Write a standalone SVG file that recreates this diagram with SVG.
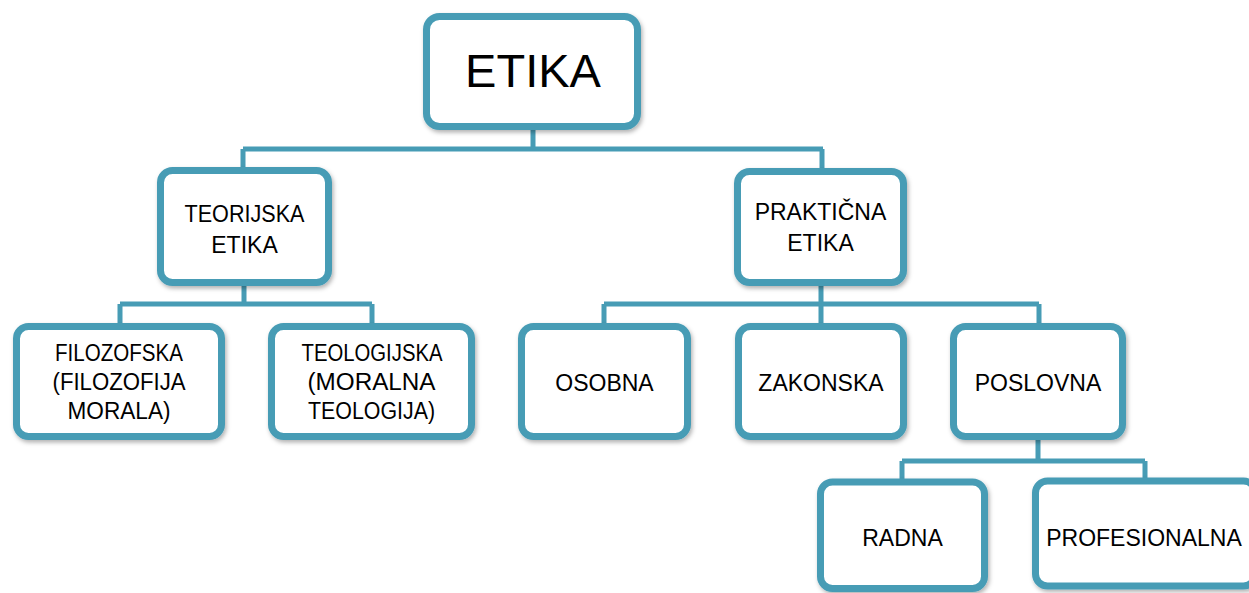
<svg xmlns="http://www.w3.org/2000/svg" width="1249" height="593" viewBox="0 0 1249 593">
<defs>
<filter id="sh" x="-10%" y="-10%" width="130%" height="130%">
<feDropShadow dx="1.5" dy="2.5" stdDeviation="2" flood-color="#000" flood-opacity="0.3"/>
</filter>
<style>
.box{fill:#fff;stroke:#479cb5;stroke-width:7;filter:url(#sh)}
.t{font-family:"Liberation Sans",Arial,sans-serif;font-size:23px;fill:#000;text-anchor:middle}
.big{font-size:47px}
.con{fill:none;stroke:#479cb5;stroke-width:5}
</style>
</defs>
<rect width="1249" height="593" fill="#fff"/>
<g id="connectors" class="con">
<path d="M533 130V149M243 149H823M243 149V168M822 149V168"/>
<path d="M244 286V304M120 304H372M120 304V323M372 304V323"/>
<path d="M821 286V323M604 304H1039M604 304V323M1039 304V323"/>
<path d="M1038 440V461M902 461H1145M902 461V479M1145 461V478"/>
</g>
<g id="etika">
<rect class="box" x="426.5" y="16.5" width="211" height="110" rx="13"/>
<text class="t big" x="533" y="87">ETIKA</text>
</g>
<g id="teorijska">
<rect class="box" x="160.5" y="170.5" width="168" height="112" rx="12"/>
<text class="t" x="244.5" y="222" textLength="120" lengthAdjust="spacingAndGlyphs">TEORIJSKA</text>
<text class="t" x="244.5" y="253">ETIKA</text>
</g>
<g id="prakticna">
<rect class="box" x="737.5" y="171.5" width="166" height="111" rx="12"/>
<text class="t" x="820.5" y="220">PRAKTIČNA</text>
<text class="t" x="820.5" y="251">ETIKA</text>
</g>
<g id="filozofska">
<rect class="box" x="16.5" y="326.5" width="205" height="110" rx="12"/>
<text class="t" x="119" y="361" textLength="128" lengthAdjust="spacingAndGlyphs">FILOZOFSKA</text>
<text class="t" x="119" y="390" textLength="133" lengthAdjust="spacingAndGlyphs">(FILOZOFIJA</text>
<text class="t" x="119" y="419" textLength="103" lengthAdjust="spacingAndGlyphs">MORALA)</text>
</g>
<g id="teologijska">
<rect class="box" x="271.5" y="326.5" width="200" height="110" rx="12"/>
<text class="t" x="372" y="361" textLength="141" lengthAdjust="spacingAndGlyphs">TEOLOGIJSKA</text>
<text class="t" x="371.5" y="390" textLength="128" lengthAdjust="spacingAndGlyphs">(MORALNA</text>
<text class="t" x="371.5" y="419" textLength="127" lengthAdjust="spacingAndGlyphs">TEOLOGIJA)</text>
</g>
<g id="osobna">
<rect class="box" x="521.5" y="326.5" width="166" height="110" rx="12"/>
<text class="t" x="604.5" y="391">OSOBNA</text>
</g>
<g id="zakonska">
<rect class="box" x="738.5" y="326.5" width="165" height="110" rx="12"/>
<text class="t" x="821" y="391">ZAKONSKA</text>
</g>
<g id="poslovna">
<rect class="box" x="953.5" y="326.5" width="169" height="110" rx="12"/>
<text class="t" x="1038" y="391">POSLOVNA</text>
</g>
<g id="radna">
<rect class="box" x="820.5" y="482" width="164" height="106.5" rx="12"/>
<text class="t" x="902.5" y="546">RADNA</text>
</g>
<g id="profesionalna">
<rect class="box" x="1035.5" y="481" width="220" height="105" rx="12"/>
<text class="t" x="1144" y="546">PROFESIONALNA</text>
</g>
</svg>
